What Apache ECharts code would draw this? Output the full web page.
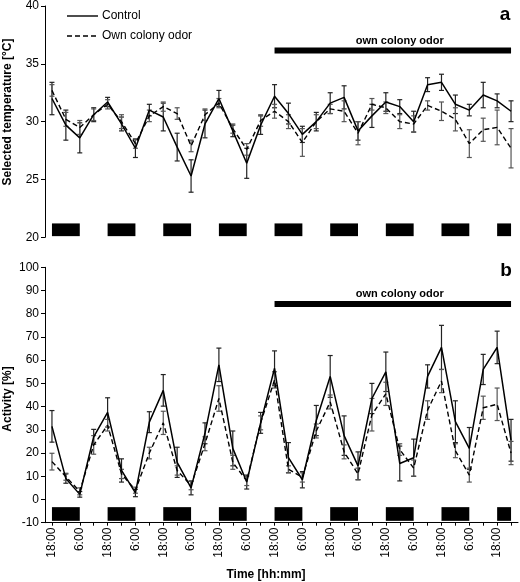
<!DOCTYPE html>
<html><head><meta charset="utf-8">
<script src="https://cdn.jsdelivr.net/npm/echarts@6/dist/echarts.min.js"></script>
<style>html,body{margin:0;padding:0;background:#fff}#c{width:520px;height:582px}</style>
</head><body><div id="c"></div>
<script>
// ---- data ----
const times = ['18:00','0:00','6:00','12:00','18:00','0:00','6:00','12:00',
  '18:00','0:00','6:00','12:00','18:00','0:00','6:00','12:00',
  '18:00','0:00','6:00','12:00','18:00','0:00','6:00','12:00',
  '18:00','0:00','6:00','12:00','18:00','0:00','6:00','12:00',
  '18:00','0:00'];
const seriesNames = ['Control', 'Own colony odor'];
const tempControl = [32.0,29.7,28.6,30.6,31.7,29.8,27.7,31.0,30.4,27.8,25.3,29.8,32.0,29.2,26.4,29.7,
  32.2,30.7,28.9,30.0,31.6,32.1,29.2,30.5,31.7,31.3,30.0,33.2,33.4,31.5,31.0,32.3,31.8,30.9];
const tempControlErr = [1.4,1.3,1.3,0.6,0.4,0.6,0.8,0.5,1.2,1.2,1.4,1.2,0.7,0.5,1.3,0.8,
  1.0,0.9,0.7,0.8,0.9,1.0,0.8,1.0,0.8,0.6,0.9,0.6,0.7,0.8,0.5,1.1,0.6,0.9];
const tempOdor = [32.7,30.2,29.5,30.6,31.5,30.0,28.1,30.5,31.3,30.7,27.9,30.6,31.6,29.4,27.6,30.1,
  30.9,30.0,28.2,30.0,31.1,30.9,29.0,31.5,31.2,30.0,29.8,31.4,30.9,30.2,28.1,29.3,29.5,27.7];
const tempOdorErr = [0.5,0.6,0.6,0.5,0.4,0.6,0.4,0.5,0.4,0.5,0.5,0.5,0.4,0.4,0.5,0.5,
  0.6,0.6,1.2,0.6,0.4,0.9,1.0,0.5,0.5,0.6,0.7,0.4,0.8,1.0,1.2,1.0,1.5,1.7];
const actControl = [31.5,9.0,2.2,27.0,37.5,12.5,2.8,33.3,47.0,16.0,5.0,28.5,58.0,22.0,7.5,33.0,
  56.5,18.0,8.5,34.0,53.0,27.5,14.5,43.5,55.0,15.5,18.0,53.0,65.5,33.5,22.0,56.0,65.5,25.5];
const actControlErr = [6.8,2.0,1.2,3.2,6.3,5.0,1.6,4.5,6.8,6.5,3.0,4.5,7.2,7.5,3.0,4.5,
  7.5,6.5,3.5,6.5,9.0,8.5,6.0,6.5,8.5,7.5,8.0,5.0,9.5,9.0,9.0,6.5,7.0,9.0];
const actOdor = [16.3,9.8,3.5,23.5,32.0,11.0,4.0,20.0,33.0,12.5,6.0,24.0,43.5,16.0,8.0,33.0,
  51.5,13.0,9.5,29.5,42.0,20.5,11.0,36.5,45.5,21.5,13.5,38.5,51.0,21.0,10.5,39.5,41.0,20.0];
const actOdorErr = [3.6,1.5,1.5,4.0,2.5,2.0,1.3,2.5,5.0,2.0,1.8,3.0,5.5,3.0,2.0,3.0,
  3.5,1.5,2.0,3.0,3.0,3.0,2.5,7.0,5.0,2.5,3.5,4.0,5.0,3.0,3.0,5.0,7.0,5.0];
// night periods (start/end index into times)
const nights = [[0,2],[4,6],[8,10],[12,14],[16,18],[20,22],[24,26],[28,30],[32,33]];
// odor treatment period (start/end index)
const odorPeriod = [[16,33]];
const odorLabel = 'own colony odor';
const tempTicks = [20, 40, 5];
const actTicks = [-10, 100, 10];

// ---- chart ----
const FONT = 'Liberation Sans, Arial, sans-serif';
const chart = echarts.init(document.getElementById('c'));

function errData(v, e) { return v.map((x, i) => [i, x - e[i], x + e[i]]); }
function errRender(color) {
  return function (params, api) {
    const x = api.value(0);
    const lo = api.coord([x, api.value(1)]);
    const hi = api.coord([x, api.value(2)]);
    const w = 2.5;
    const style = { stroke: color, lineWidth: 1.2 };
    return { type: 'group', children: [
      { type: 'line', shape: { x1: hi[0], y1: hi[1], x2: lo[0], y2: lo[1] }, style },
      { type: 'line', shape: { x1: hi[0] - w, y1: hi[1], x2: hi[0] + w, y2: hi[1] }, style },
      { type: 'line', shape: { x1: lo[0] - w, y1: lo[1], x2: lo[0] + w, y2: lo[1] }, style }
    ]};
  };
}
function nightRender(y0, y1) {
  return function (params, api) {
    const a = api.coord([api.value(0), y1]);
    const b = api.coord([api.value(1), y0]);
    return { type: 'rect', shape: { x: a[0], y: a[1], width: b[0] - a[0], height: b[1] - a[1] },
      style: { fill: '#000' } };
  };
}
function odorRender(yv) {
  return function (params, api) {
    const a = api.coord([api.value(0), yv]);
    const b = api.coord([api.value(1), yv]);
    return { type: 'group', children: [
      { type: 'rect', shape: { x: a[0], y: a[1] - 3, width: b[0] - a[0], height: 6 }, style: { fill: '#000' } },
      { type: 'text', x: (a[0] + b[0]) / 2 + 7, y: a[1] - 10,
        style: { text: odorLabel, fontSize: 11, fontWeight: 'bold', fontFamily: FONT, fill: '#000',
          align: 'center', verticalAlign: 'middle' } }
    ]};
  };
}

const xBase = { type: 'category', data: times, boundaryGap: true };
const yLabel = { fontSize: 12, fontFamily: FONT, color: '#000', margin: 6 };
const yLine = { show: true, lineStyle: { color: '#000', width: 1 } };

function legendItem(y, name, dashed) {
  return [
    { type: 'line', shape: { x1: 67, y1: y, x2: 98, y2: y },
      style: { stroke: '#000', lineWidth: 1.4, lineDash: dashed ? [5, 3] : null } },
    { type: 'text', x: 102, y: y,
      style: { text: name, fontSize: 12, fontFamily: FONT, fill: '#000', align: 'left', verticalAlign: 'middle' } }
  ];
}

const option = {
  animation: false,
  backgroundColor: '#fff',
  grid: [
    { left: 45, right: 2, top: 5.5, height: 231.8 },
    { left: 45, right: 2, top: 267.3, height: 255.4 }
  ],
  xAxis: [
    Object.assign({}, xBase, { gridIndex: 0, show: false }),
    Object.assign({}, xBase, { gridIndex: 1,
      axisLine: { show: true, onZero: false, lineStyle: { color: '#000', width: 1 } },
      axisTick: { show: true, interval: 0, alignWithLabel: true, length: 3, lineStyle: { color: '#000' } },
      axisLabel: { interval: 1, rotate: 90, fontSize: 12, fontFamily: FONT, color: '#000', margin: 5 },
      splitLine: { show: false } })
  ],
  yAxis: [
    { type: 'value', gridIndex: 0, min: tempTicks[0], max: tempTicks[1], interval: tempTicks[2],
      axisLine: yLine, axisTick: { show: true, length: 4, lineStyle: { color: '#000' } },
      axisLabel: yLabel, splitLine: { show: false } },
    { type: 'value', gridIndex: 1, min: actTicks[0], max: actTicks[1], interval: actTicks[2],
      axisLine: yLine, axisTick: { show: true, length: 4, lineStyle: { color: '#000' } },
      axisLabel: yLabel, splitLine: { show: false } }
  ],
  series: [
    { type: 'custom', name: 'nightTop', xAxisIndex: 0, yAxisIndex: 0, data: nights,
      renderItem: nightRender(20.1, 21.2), encode: { x: [0, 1] }, silent: true },
    { type: 'custom', name: 'nightBottom', xAxisIndex: 1, yAxisIndex: 1, data: nights,
      renderItem: nightRender(-9.2, -3.3), encode: { x: [0, 1] }, silent: true },
    { type: 'custom', name: 'odorTop', xAxisIndex: 0, yAxisIndex: 0, data: odorPeriod,
      renderItem: odorRender(36.15), encode: { x: [0, 1] }, silent: true },
    { type: 'custom', name: 'odorBottom', xAxisIndex: 1, yAxisIndex: 1, data: odorPeriod,
      renderItem: odorRender(84.2), encode: { x: [0, 1] }, silent: true },
    { type: 'custom', name: 'errTC', xAxisIndex: 0, yAxisIndex: 0, data: errData(tempControl, tempControlErr),
      renderItem: errRender('#222'), encode: { x: 0, y: [1, 2] }, z: 2 },
    { type: 'custom', name: 'errTO', xAxisIndex: 0, yAxisIndex: 0, data: errData(tempOdor, tempOdorErr),
      renderItem: errRender('#555'), encode: { x: 0, y: [1, 2] }, z: 2 },
    { type: 'custom', name: 'errAC', xAxisIndex: 1, yAxisIndex: 1, data: errData(actControl, actControlErr),
      renderItem: errRender('#222'), encode: { x: 0, y: [1, 2] }, z: 2 },
    { type: 'custom', name: 'errAO', xAxisIndex: 1, yAxisIndex: 1, data: errData(actOdor, actOdorErr),
      renderItem: errRender('#555'), encode: { x: 0, y: [1, 2] }, z: 2 },
    { type: 'line', name: seriesNames[0], xAxisIndex: 0, yAxisIndex: 0, data: tempControl,
      symbol: 'none', lineStyle: { color: '#000', width: 1.5 }, itemStyle: { color: '#000' }, z: 3 },
    { type: 'line', name: seriesNames[1], xAxisIndex: 0, yAxisIndex: 0, data: tempOdor,
      symbol: 'none', lineStyle: { color: '#000', width: 1.4, type: [5, 3] }, itemStyle: { color: '#000' }, z: 3 },
    { type: 'line', name: seriesNames[0], xAxisIndex: 1, yAxisIndex: 1, data: actControl,
      symbol: 'none', lineStyle: { color: '#000', width: 1.5 }, itemStyle: { color: '#000' }, z: 3 },
    { type: 'line', name: seriesNames[1], xAxisIndex: 1, yAxisIndex: 1, data: actOdor,
      symbol: 'none', lineStyle: { color: '#000', width: 1.4, type: [5, 3] }, itemStyle: { color: '#000' }, z: 3 }
  ],
  graphic: [].concat(
    legendItem(16, seriesNames[0], false),
    legendItem(36, seriesNames[1], true),
    [
    { type: 'text', x: 8, y: 112, rotation: Math.PI / 2,
      style: { text: 'Selected temperature [°C]', fontSize: 12, fontWeight: 'bold', fontFamily: FONT,
        fill: '#000', align: 'center', verticalAlign: 'middle' } },
    { type: 'text', x: 8, y: 399, rotation: Math.PI / 2,
      style: { text: 'Activity [%]', fontSize: 12, fontWeight: 'bold', fontFamily: FONT,
        fill: '#000', align: 'center', verticalAlign: 'middle' } },
    { type: 'text', x: 266, y: 575,
      style: { text: 'Time [hh:mm]', fontSize: 12, fontWeight: 'bold', fontFamily: FONT,
        fill: '#000', align: 'center', verticalAlign: 'middle' } },
    { type: 'text', x: 505, y: 15,
      style: { text: 'a', fontSize: 19, fontWeight: 'bold', fontFamily: FONT,
        fill: '#000', align: 'center', verticalAlign: 'middle' } },
    { type: 'text', x: 506, y: 271,
      style: { text: 'b', fontSize: 19, fontWeight: 'bold', fontFamily: FONT,
        fill: '#000', align: 'center', verticalAlign: 'middle' } }
  ])
};
chart.setOption(option);
</script>
</body></html>
